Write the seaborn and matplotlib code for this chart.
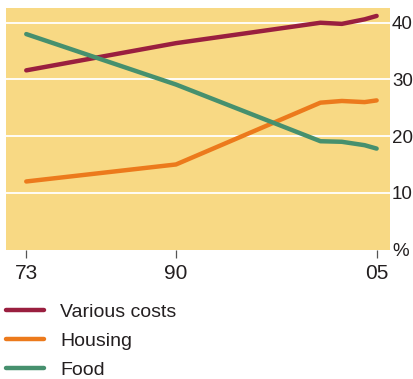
import numpy as np
import pandas as pd
import matplotlib
matplotlib.use("Agg")
import matplotlib.pyplot as plt
import seaborn as sns

# ---- data ----
years = [1973, 1990, 2000.8, 2002.4, 2004.1, 2005]
various_costs = [31.6, 36.4, 40.0, 39.8, 40.6, 41.2]
housing = [12.0, 15.0, 25.9, 26.2, 26.0, 26.3]
food = [38.0, 29.1, 19.1, 19.0, 18.4, 17.8]

series_names = ["Various costs", "Housing", "Food"]
series_colors = ["#9A1F3F", "#EC7A1C", "#46906E"]

x_ticks = [1973, 1990, 2005]
x_labels = ["73", "90", "05"]
y_ticks = [0, 10, 20, 30, 40]
y_labels = ["%", "10", "20", "30", "40"]

BG = "#F8D984"
TEXT = "#231F20"

df = pd.DataFrame({
    "year": years * 3,
    "value": various_costs + housing + food,
    "series": [n for n in series_names for _ in years],
})

sns.set_theme(style="white")
plt.rcParams["font.family"] = ["Liberation Sans", "DejaVu Sans"]

fig = plt.figure(figsize=(4.14, 3.79), dpi=100)
ax = fig.add_axes([6 / 414, 1 - 249.5 / 379, 384 / 414, 241.5 / 379])
ax.set_facecolor(BG)

# the 1973-1990 stretch is drawn compressed in the original
K = 0.6585


def fwd(x):
    x = np.asarray(x, dtype=float)
    return np.where(x < 1990, 1990 + (x - 1990) * K, x)


def inv(x):
    x = np.asarray(x, dtype=float)
    return np.where(x < 1990, 1990 + (x - 1990) / K, x)


ax.set_xscale("function", functions=(fwd, inv))

for v in y_ticks[1:]:
    ax.axhline(v, color="white", lw=1.3, zorder=1)

sns.lineplot(data=df, x="year", y="value", hue="series",
             palette=dict(zip(series_names, series_colors)),
             linewidth=3.2, ax=ax, legend=False, zorder=3)

ax.set_xlim(1970.7, 2006)
ax.set_ylim(0, 42.6)
for s in ax.spines.values():
    s.set_visible(False)

ax.set_xticks(x_ticks)
ax.set_xticklabels(x_labels)
ax.xaxis.set_minor_locator(matplotlib.ticker.NullLocator())
ax.tick_params(axis="x", bottom=True, length=6, width=0.9, color="#555555",
               labelsize=15, labelcolor=TEXT, pad=4.5)

ax.yaxis.tick_right()
ax.set_yticks(y_ticks)
ax.set_yticklabels(y_labels)
ax.tick_params(axis="y", right=False, left=False, length=0,
               labelsize=13.5, labelcolor=TEXT, pad=1.5)
ax.set_xlabel("")
ax.set_ylabel("")

handles = [plt.Line2D([], [], color=c, lw=3.2) for c in series_colors]
fig.legend(handles, series_names, loc="upper left",
           bbox_to_anchor=(6 / 414, 1 - 303 / 379), frameon=False,
           borderpad=0, borderaxespad=0, handlelength=1.95,
           handletextpad=0.85, labelspacing=0.6,
           prop={"size": 14}, labelcolor=TEXT)

fig.savefig("out.png", dpi=100, facecolor="white")
